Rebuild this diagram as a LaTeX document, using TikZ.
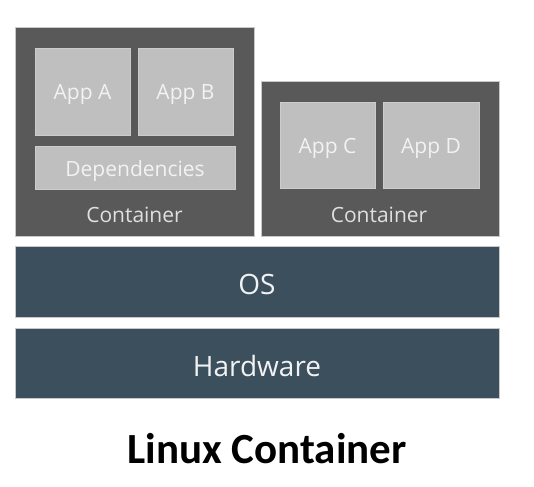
\documentclass[tikz,border=0pt]{standalone}
\usepackage{fontspec}
\setmainfont{Open Sans}
\newfontfamily\titlefont{Carlito}
\usepackage{tikz}
\usepackage{xcolor}

\definecolor{contgray}{RGB}{89,89,89}
\definecolor{appgray}{RGB}{191,191,191}
\definecolor{osblue}{RGB}{59,79,92}
\definecolor{edgegray}{RGB}{200,200,200}

\begin{document}
\begin{tikzpicture}[x=1pt, y=-1pt,
        box/.style={draw=edgegray, line width=0.6pt, inner sep=0pt, align=center},
        contbox/.style={box, fill=contgray},
        appbox/.style={box, fill=appgray, draw=appgray!80!white, text=white!95!black,
            text height=17pt, text depth=0pt, font=\fontsize{21}{25}\selectfont},
        layerbox/.style={box, fill=osblue, minimum width=484pt, text=white!95!black,
            text height=26pt, text depth=0pt, font=\fontsize{28}{32}\selectfont},
        contlabel/.style={anchor=base, inner sep=0pt, text=white!88!black,
            font=\fontsize{21}{25}\selectfont}]
            \useasboundingbox (0, 0) rectangle (534, 486);

            % containers
            \node[contbox, minimum width=239pt, minimum height=209pt] (cont1) at (134.5, 131.5) {};
            \node[contbox, minimum width=238pt, minimum height=155pt] (cont2) at (380.0, 158.5) {};

            % apps
            \node[appbox, minimum width=95pt, minimum height=87pt] (appA) at (82.5, 91.5) {App A};
            \node[appbox, minimum width=95pt, minimum height=87pt] (appB) at (185.5, 91.5) {App B};
            \node[appbox, minimum width=200pt, minimum height=43pt] (deps) at (135.0, 167.5) {Dependencies};
            \node[appbox, minimum width=95pt, minimum height=86pt] (appC) at (327.5, 145.0) {App C};
            \node[appbox, minimum width=96pt, minimum height=86pt] (appD) at (431.0, 145.0) {App D};

            \node[contlabel] (cont1lbl) at (134.5, 222.0) {Container};
            \node[contlabel] (cont2lbl) at (379.0, 222.0) {Container};

            % layers
            \node[layerbox, minimum height=71pt] (os) at (257.0, 281.5) {OS};
            \node[layerbox, minimum height=70pt] (hw) at (257.0, 363.0) {Hardware};

            \node[anchor=base, inner sep=0pt, font=\titlefont\bfseries\fontsize{43}{48}\selectfont]
                (title) at (267.0, 463.0) {Linux Container};
        \end{tikzpicture}
\end{document}
